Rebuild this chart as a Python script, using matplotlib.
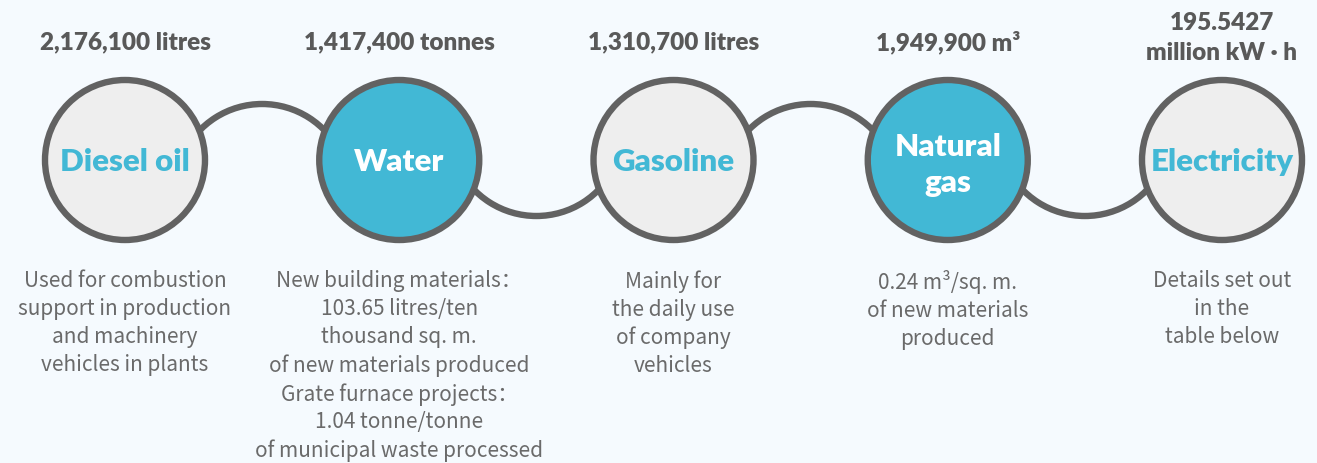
import matplotlib.pyplot as plt
from matplotlib.patches import Circle, Arc

# ---- data ----
names = ['Diesel oil', 'Water', 'Gasoline', 'Natural\ngas', 'Electricity']
amounts = ['2,176,100 litres', '1,417,400 tonnes', '1,310,700 litres',
           '1,949,900 m³', '195.5427\nmillion kW · h']
notes = [
    'Used for combustion\nsupport in production\nand machinery\nvehicles in plants',
    'New building materials：\n103.65 litres/ten\nthousand sq. m.\nof new materials produced\n'
    'Grate furnace projects：\n1.04 tonne/tonne\nof municipal waste processed',
    'Mainly for\nthe daily use\nof company\nvehicles',
    '0.24 m³/sq. m.\nof new materials\nproduced',
    'Details set out\nin the\ntable below',
]
highlight = [False, True, False, True, False]

# ---- style ----
BG = '#f5fafe'
GREY_FILL = '#eeeeee'
TEAL = '#42b8d5'
EDGE = '#626262'
DARK = '#595959'
NOTE = '#6a6a6a'
W, H = 1317, 463
CY = H - 160          # circle centre (y up)
R = 80
STEP = 274.25
X0 = 125

fig = plt.figure(figsize=(W / 100, H / 100), dpi=100, facecolor=BG)
ax = fig.add_axes([0, 0, 1, 1])
ax.set_xlim(0, W)
ax.set_ylim(0, H)
ax.set_facecolor(BG)
ax.axis('off')

xs = [X0 + STEP * i for i in range(len(names))]

# connecting arcs, alternating above / below
for i in range(len(xs) - 1):
    mx = (xs[i] + xs[i + 1]) / 2
    if i % 2 == 0:
        arc = Arc((mx, CY - 31), 174, 174, theta1=25, theta2=155,
                  lw=4.6, color=EDGE, zorder=1)
    else:
        arc = Arc((mx, CY + 31), 174, 174, theta1=205, theta2=335,
                  lw=4.6, color=EDGE, zorder=1)
    ax.add_patch(arc)

bold = ['Lato', 'DejaVu Sans']
light = ['Noto Sans CJK SC', 'DejaVu Sans']

for x, name, amt, note, hl in zip(xs, names, amounts, notes, highlight):
    ax.add_patch(Circle((x, CY), R, facecolor=TEAL if hl else GREY_FILL,
                        edgecolor=EDGE, lw=4.6, zorder=2))
    dy = -5 if '\n' in name else -2
    ax.text(x, CY + dy, name, ha='center', va='center', fontsize=22.5,
            fontweight='heavy', family=bold, color='white' if hl else TEAL,
            linespacing=1.35, zorder=3)
    if '\n' in amt:
        ax.text(x, H - 38, amt, ha='center', va='center', fontsize=17.5,
                fontweight='heavy', family=bold, color=DARK, linespacing=1.45)
    else:
        ax.text(x, H - 42, amt, ha='center', va='center', fontsize=17.5,
                fontweight='heavy', family=bold, color=DARK)
    ax.text(x, H - 270, note, ha='center', va='top', fontsize=15,
            family=light, fontweight='light', color=NOTE, linespacing=1.35)

fig.savefig('out.png', dpi=100, facecolor=BG)
